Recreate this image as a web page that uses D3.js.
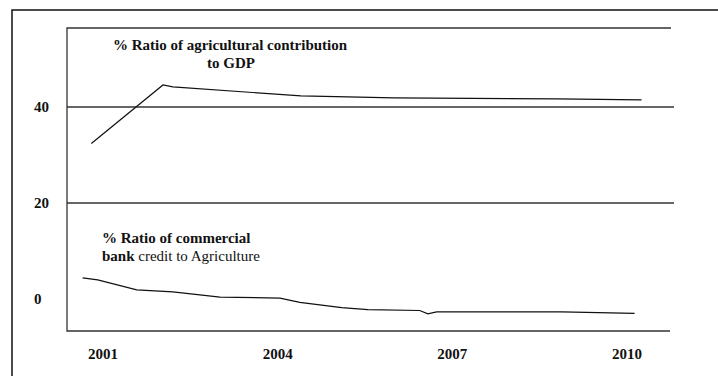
<!DOCTYPE html>
<html>
<head>
<meta charset="utf-8">
<script src="https://cdn.jsdelivr.net/npm/d3@7"></script>
<style>
  body { margin: 0; background: #fff; }
  text { font-family: "Liberation Serif", "Times New Roman", serif; fill: #111; }
</style>
</head>
<body>
<div id="chart"></div>
<script>
// data (years are fractional where the vertices fall between years)
var gdpYears = [2000.80, 2002.03, 2002.20, 2004.40, 2006.00, 2008.80, 2010.25];
var gdpValues = [32.4, 44.6, 44.2, 42.3, 41.9, 41.7, 41.5];

var creditYears = [2000.65, 2000.91, 2001.58, 2002.20, 2003.01, 2004.04, 2004.38, 2005.10, 2005.55, 2006.44, 2006.58, 2006.73, 2008.88, 2010.13];
var creditValues = [4.4, 4.0, 1.9, 1.5, 0.4, 0.2, -0.7, -1.8, -2.2, -2.4, -3.1, -2.7, -2.7, -3.0];

var xTicks = [2001, 2004, 2007, 2010];
var yTicks = [0, 20, 40];

var svgWidth = 718;
var svgHeight = 376;

var margin = { top: 28, right: 47, bottom: 45, left: 67 };
var width = svgWidth - margin.left - margin.right;
var height = svgHeight - margin.top - margin.bottom;

var svg = d3.select("#chart")
    .append("svg")
    .attr("width", svgWidth)
    .attr("height", svgHeight);

// outer frame (runs off the right and bottom edge)
svg.append("rect")
    .attr("x", 12)
    .attr("y", 10)
    .attr("width", 720)
    .attr("height", 400)
    .attr("fill", "none")
    .attr("stroke", "#111")
    .attr("stroke-width", 1.5);

var chartGroup = svg.append("g")
    .attr("transform", `translate(${margin.left},${margin.top})`);

var xScale = d3.scaleLinear()
    .domain([2001, 2010])
    .range([103 - margin.left, 627 - margin.left]);

var yScale = d3.scaleLinear()
    .domain([0, 40])
    .range([299 - margin.top, 107 - margin.top]);

// plot frame: top, left, bottom
chartGroup.append("path")
    .attr("d", `M${width},0H0V${height}H${width - 1}`)
    .attr("fill", "none")
    .attr("stroke", "#333")
    .attr("stroke-width", 1.3);

// gridlines at 20 and 40
chartGroup.selectAll("line.grid")
    .data(yTicks.filter(d => d > 0))
    .enter()
    .append("line")
    .attr("class", "grid")
    .attr("x1", 0)
    .attr("x2", width + 3)
    .attr("y1", d => yScale(d))
    .attr("y2", d => yScale(d))
    .attr("stroke", "#333")
    .attr("stroke-width", 1.3);

// y labels
chartGroup.selectAll("text.ylab")
    .data(yTicks)
    .enter()
    .append("text")
    .attr("class", "ylab")
    .attr("x", 34 - margin.left)
    .attr("y", d => yScale(d))
    .attr("dy", "0.35em")
    .style("font-size", "15px")
    .style("font-weight", "bold")
    .text(d => d);

// x labels
chartGroup.selectAll("text.xlab")
    .data(xTicks)
    .enter()
    .append("text")
    .attr("class", "xlab")
    .attr("x", d => xScale(d))
    .attr("y", 359 - margin.top)
    .attr("text-anchor", "middle")
    .style("font-size", "15px")
    .style("font-weight", "bold")
    .text(d => d);

var line = d3.line()
    .x(d => xScale(d[0]))
    .y(d => yScale(d[1]));

chartGroup.append("path")
    .datum(d3.zip(gdpYears, gdpValues))
    .attr("d", line)
    .attr("fill", "none")
    .attr("stroke", "#111")
    .attr("stroke-width", 1.2);

chartGroup.append("path")
    .datum(d3.zip(creditYears, creditValues))
    .attr("d", line)
    .attr("fill", "none")
    .attr("stroke", "#111")
    .attr("stroke-width", 1.2);

// annotations
var gdpLabel = chartGroup.append("text")
    .attr("text-anchor", "middle")
    .style("font-size", "15px")
    .style("font-weight", "bold");
gdpLabel.append("tspan")
    .attr("x", 230 - margin.left)
    .attr("y", 50 - margin.top)
    .text("% Ratio of agricultural contribution");
gdpLabel.append("tspan")
    .attr("x", 231 - margin.left)
    .attr("y", 68 - margin.top)
    .text("to GDP");

var creditLabel = chartGroup.append("text")
    .style("font-size", "15px");
creditLabel.append("tspan")
    .attr("x", 102 - margin.left)
    .attr("y", 243 - margin.top)
    .style("font-weight", "bold")
    .text("% Ratio of commercial");
creditLabel.append("tspan")
    .attr("x", 102 - margin.left)
    .attr("y", 261 - margin.top)
    .style("font-weight", "bold")
    .text("bank");
creditLabel.append("tspan")
    .text(" credit to Agriculture");
</script>
</body>
</html>
